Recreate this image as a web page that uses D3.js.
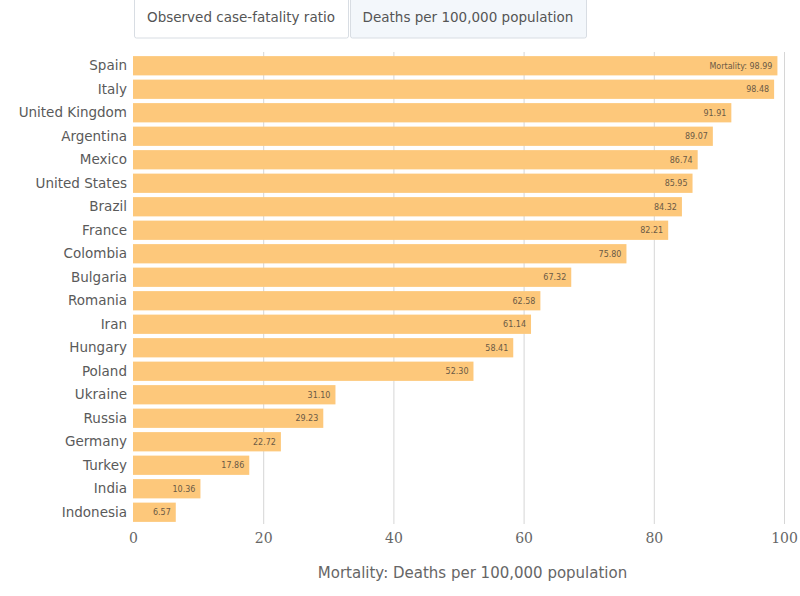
<!DOCTYPE html>
<html>
<head>
<meta charset="utf-8">
<script src="https://cdn.jsdelivr.net/npm/d3@7"></script>
<style>
  body { margin: 0; background: #fff; }
  svg { display: block; font-family: "DejaVu Sans", sans-serif; }
</style>
</head>
<body>
<svg id="chart"></svg>
<script>
const countries = ["Spain", "Italy", "United Kingdom", "Argentina", "Mexico", "United States",
    "Brazil", "France", "Colombia", "Bulgaria", "Romania", "Iran", "Hungary", "Poland",
    "Ukraine", "Russia", "Germany", "Turkey", "India", "Indonesia"]
const deaths = [98.99, 98.48, 91.91, 89.07, 86.74, 85.95, 84.32, 82.21, 75.80, 67.32,
    62.58, 61.14, 58.41, 52.30, 31.10, 29.23, 22.72, 17.86, 10.36, 6.57]
const xTicks = [0, 20, 40, 60, 80, 100]
const tabs = ["Observed case-fatality ratio", "Deaths per 100,000 population"]

const width = 800, height = 596
const margin = {top: 54, right: 16, bottom: 72, left: 133}

const svg = d3.select("#chart")
    .attr("width", width)
    .attr("height", height)

// tabs on top
const tabX = [134, 350], tabW = [214, 236]
const tab = svg.selectAll("g.tab")
    .data(tabs)
    .enter()
    .append("g")
    .attr("class", "tab")
    .attr("transform", (d, i) => `translate(${tabX[i]},0)`)
tab.append("rect")
    .attr("x", 0.5).attr("y", -4)
    .attr("width", (d, i) => tabW[i]).attr("height", 42)
    .attr("rx", 2)
    .attr("fill", (d, i) => i == 1 ? "#f3f7fb" : "#fff")
    .attr("stroke", "#d8dde3")
tab.append("text")
    .attr("x", (d, i) => tabW[i] / 2)
    .attr("y", 22)
    .attr("text-anchor", "middle")
    .attr("fill", "#555")
    .style("font-size", "13.5px")
    .text(d => d)

const x = d3.scaleLinear()
    .domain([0, 100])
    .range([margin.left, width - margin.right])

const y = d3.scaleBand()
    .domain(countries)
    .range([margin.top, height - margin.bottom])
    .paddingInner(0.18)
    .paddingOuter(0.09)

// grid
svg.append("g")
    .selectAll("line")
    .data(xTicks.slice(1))
    .enter()
    .append("line")
    .attr("x1", d => x(d) + 0.5).attr("x2", d => x(d) + 0.5)
    .attr("y1", margin.top - 2).attr("y2", height - margin.bottom)
    .attr("stroke", "#d6d6d6")

// bars
svg.append("g")
    .selectAll("rect")
    .data(deaths)
    .enter()
    .append("rect")
    .attr("x", x(0))
    .attr("y", (d, i) => y(countries[i]))
    .attr("width", d => x(d) - x(0))
    .attr("height", y.bandwidth())
    .attr("fill", "#fdc87b")

// value labels
svg.append("g")
    .selectAll("text")
    .data(deaths)
    .enter()
    .append("text")
    .attr("x", d => x(d) - 5)
    .attr("y", (d, i) => y(countries[i]) + y.bandwidth() / 2)
    .attr("dy", "0.35em")
    .attr("text-anchor", "end")
    .attr("fill", "#6b5a45")
    .style("font-size", "8px")
    .text((d, i) => (i == 0 ? "Mortality: " : "") + d.toFixed(2))

// country axis
const yAxis = svg.append("g")
    .attr("transform", `translate(${margin.left - 6},0)`)
    .call(d3.axisLeft(y).tickSize(0).tickPadding(0))
yAxis.select(".domain").remove()
yAxis.selectAll("text")
    .attr("fill", "#5a5a5a")
    .style("font-size", "13.5px")
    .style("font-family", "DejaVu Sans, sans-serif")

// value axis
const xAxis = svg.append("g")
    .attr("transform", `translate(0,${height - margin.bottom})`)
    .call(d3.axisBottom(x).tickValues(xTicks).tickSize(0).tickPadding(9))
xAxis.select(".domain").remove()
xAxis.selectAll("text")
    .attr("fill", "#666")
    .style("font-size", "14px")
    .style("font-family", "DejaVu Serif, serif")

svg.append("text")
    .attr("x", (x(0) + x(100)) / 2 + 14)
    .attr("y", 578)
    .attr("text-anchor", "middle")
    .attr("fill", "#666")
    .style("font-size", "15px")
    .text("Mortality: Deaths per 100,000 population")
</script>
</body>
</html>
